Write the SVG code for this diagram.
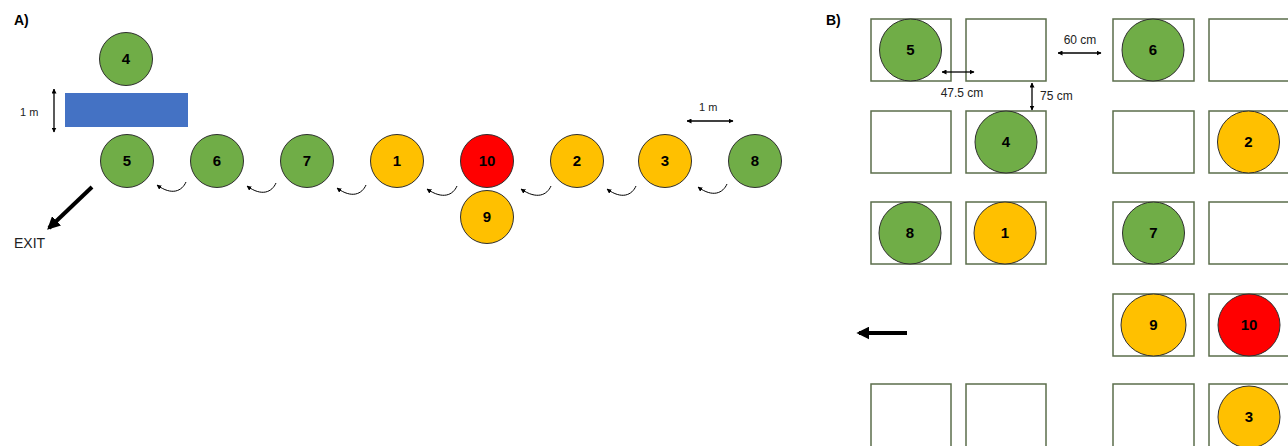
<svg xmlns="http://www.w3.org/2000/svg" width="1288" height="446" viewBox="0 0 1288 446">
<defs>
<style>
.g{fill:#70AD47;stroke:#2f2f2f;stroke-width:1}
.y{fill:#FFC000;stroke:#2f2f2f;stroke-width:1}
.r{fill:#FF0000;stroke:#2f2f2f;stroke-width:1}
.n{font-family:"Liberation Sans",Arial,sans-serif;font-weight:bold;font-size:15px;text-anchor:middle;fill:#000}
.t{font-family:"Liberation Sans",Arial,sans-serif;font-size:11px;fill:#222}
.t2{font-family:"Liberation Sans",Arial,sans-serif;font-size:12px;fill:#222}
.h{font-family:"Liberation Sans",Arial,sans-serif;font-weight:bold;font-size:14px;fill:#000}
.box{fill:#fff;stroke:#5B6E4B;stroke-width:1.5}
.dim{stroke:#000;stroke-width:1.3;fill:none;marker-start:url(#ds);marker-end:url(#de)}
.cur{stroke:#000;stroke-width:1;fill:none;marker-end:url(#ce)}
.big{stroke:#000;stroke-width:4;fill:none;marker-end:url(#be)}
</style>
<marker id="de" viewBox="0 0 10 10" refX="9" refY="5" markerWidth="5" markerHeight="5" orient="auto" markerUnits="userSpaceOnUse"><path d="M0,0 L10,5 L0,10 z" fill="#000"/></marker>
<marker id="ds" viewBox="0 0 10 10" refX="1" refY="5" markerWidth="5" markerHeight="5" orient="auto" markerUnits="userSpaceOnUse"><path d="M10,0 L0,5 L10,10 z" fill="#000"/></marker>
<marker id="ce" viewBox="0 0 10 10" refX="9" refY="5" markerWidth="5" markerHeight="5" orient="auto" markerUnits="userSpaceOnUse"><path d="M0,0 L10,5 L0,10 z" fill="#000"/></marker>
<marker id="be" viewBox="0 0 10 10" refX="8" refY="5" markerWidth="13" markerHeight="13" orient="auto" markerUnits="userSpaceOnUse"><path d="M0,0 L10,5 L0,10 z" fill="#000"/></marker>
</defs>
<rect width="1288" height="446" fill="#fff"/>

<!-- Panel A -->
<text class="h" x="14" y="25">A)</text>
<rect x="65" y="93" width="123" height="34" fill="#4472C4"/>
<text class="t" x="20" y="116">1 m</text>
<text class="t" x="699" y="111">1 m</text>
<text class="t" x="14" y="248" style="font-size:14px">EXIT</text>

<g id="a4"><circle class="g" cx="126" cy="59" r="26.5"/><text class="n" x="126" y="64">4</text></g>
<g id="a5"><circle class="g" cx="127" cy="161" r="26.5"/><text class="n" x="127" y="166">5</text></g>
<g id="a6"><circle class="g" cx="217" cy="161" r="26.5"/><text class="n" x="217" y="166">6</text></g>
<g id="a7"><circle class="g" cx="307" cy="161" r="26.5"/><text class="n" x="307" y="166">7</text></g>
<g id="a1"><circle class="y" cx="397" cy="161" r="26.5"/><text class="n" x="397" y="166">1</text></g>
<g id="a10"><circle class="r" cx="487" cy="161" r="26.5"/><text class="n" x="487" y="166">10</text></g>
<g id="a9"><circle class="y" cx="487" cy="217" r="26.5"/><text class="n" x="487" y="222">9</text></g>
<g id="a2"><circle class="y" cx="577" cy="161" r="26.5"/><text class="n" x="577" y="166">2</text></g>
<g id="a3"><circle class="y" cx="665" cy="161" r="26.5"/><text class="n" x="665" y="166">3</text></g>
<g id="a8"><circle class="g" cx="755" cy="161" r="26.5"/><text class="n" x="755" y="166">8</text></g>

<!-- Panel B -->
<text class="h" x="826" y="25">B)</text>
<g id="boxes">
<rect class="box" x="871" y="19" width="80" height="62"/>
<rect class="box" x="966" y="19" width="80" height="62"/>
<rect class="box" x="1113" y="19" width="81" height="62"/>
<rect class="box" x="1209" y="19" width="81" height="62"/>
<rect class="box" x="871" y="111" width="80" height="62"/>
<rect class="box" x="966" y="111" width="80" height="62"/>
<rect class="box" x="1113" y="111" width="81" height="62"/>
<rect class="box" x="1209" y="111" width="81" height="62"/>
<rect class="box" x="871" y="202" width="80" height="62"/>
<rect class="box" x="966" y="202" width="80" height="62"/>
<rect class="box" x="1113" y="202" width="81" height="62"/>
<rect class="box" x="1209" y="202" width="81" height="62"/>
<rect class="box" x="1113" y="294" width="81" height="62"/>
<rect class="box" x="1209" y="294" width="81" height="62"/>
<rect class="box" x="871" y="384" width="80" height="70"/>
<rect class="box" x="966" y="384" width="80" height="70"/>
<rect class="box" x="1113" y="384" width="81" height="70"/>
<rect class="box" x="1209" y="384" width="81" height="70"/>
</g>
<text class="t2" x="962" y="97" text-anchor="middle">47.5 cm</text>
<text class="t2" x="1080" y="44" text-anchor="middle">60 cm</text>
<text class="t2" x="1040" y="100">75 cm</text>

<g id="b5"><circle class="g" cx="910.5" cy="50" r="31"/><text class="n" x="910.5" y="55">5</text></g>
<g id="b6"><circle class="g" cx="1153" cy="50" r="31"/><text class="n" x="1153" y="55">6</text></g>
<g id="b4"><circle class="g" cx="1006" cy="142" r="31"/><text class="n" x="1006" y="147">4</text></g>
<g id="b2"><circle class="y" cx="1248.5" cy="142" r="31"/><text class="n" x="1248.5" y="147">2</text></g>
<g id="b8"><circle class="g" cx="910" cy="233" r="31"/><text class="n" x="910" y="238">8</text></g>
<g id="b1"><circle class="y" cx="1005" cy="233" r="31"/><text class="n" x="1005" y="238">1</text></g>
<g id="b7"><circle class="g" cx="1153.5" cy="233" r="31"/><text class="n" x="1153.5" y="238">7</text></g>
<g id="b9"><ellipse class="y" cx="1153.5" cy="325" rx="32.5" ry="31"/><text class="n" x="1153.5" y="330">9</text></g>
<g id="b10"><circle class="r" cx="1249" cy="325" r="31"/><text class="n" x="1249" y="330">10</text></g>
<g id="b3"><circle class="y" cx="1249" cy="417" r="31"/><text class="n" x="1249" y="422">3</text></g>

<g id="connectors">
<path class="dim" d="M54 89 L54 132"/>
<path class="dim" d="M687 121 L733 121"/>
<path class="cur" d="M186 182 C182 191,172 196,157 185"/>
<path class="cur" d="M276 183 C272 192,262 197,247 186"/>
<path class="cur" d="M366 185 C362 194,352 199,337 188"/>
<path class="cur" d="M457 186 C453 195,443 200,427 189"/>
<path class="cur" d="M551 186 C547 195,537 200,521 189"/>
<path class="cur" d="M636 186 C632 195,622 200,607 189"/>
<path class="cur" d="M727 184 C723 193,713 198,698 187"/>
<path class="big" d="M92 187 L49 228"/>
<path class="dim" d="M942 72 L974 72"/>
<path class="dim" d="M1058 53 L1101 53"/>
<path class="dim" d="M1032 83 L1032 110"/>
<path class="big" d="M907 333 L859 333"/>
</g>
</svg>
